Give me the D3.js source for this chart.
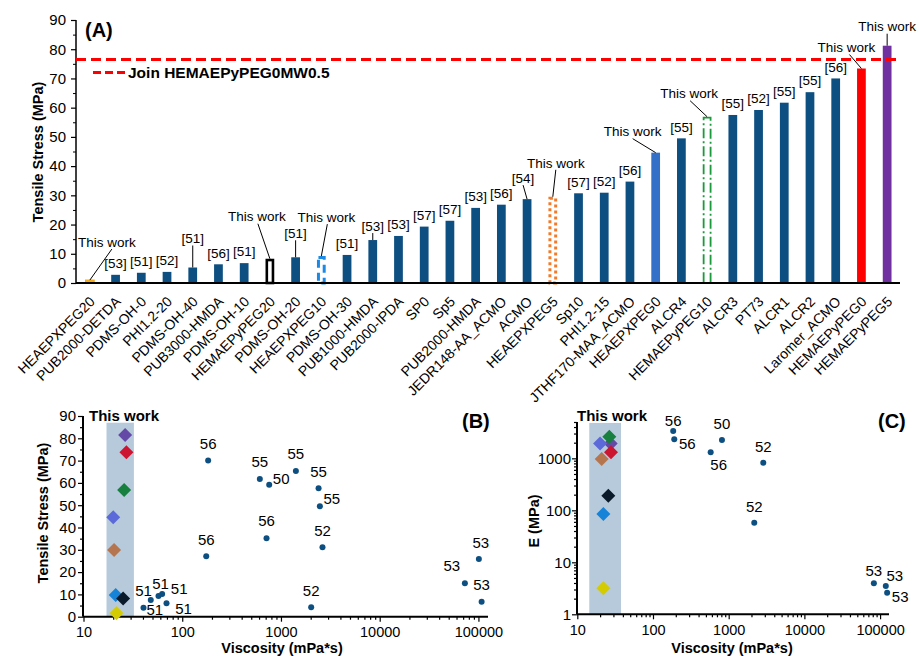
<!DOCTYPE html>
<html><head><meta charset="utf-8">
<script src="https://cdn.jsdelivr.net/npm/d3@7"></script>
<style>
body{margin:0;background:#fff}
text{font-family:"Liberation Sans",Arial,Helvetica,sans-serif;fill:#000}
</style>
</head><body>
<svg id="chart" width="919" height="656"></svg>
<script>
// ---------------- DATA ----------------
// Panel A
const categories = ["HEAEPXPEG20","PUB2000-DETDA","PDMS-OH-0","PHI1.2-20","PDMS-OH-40","PUB3000-HMDA","PDMS-OH-10","HEMAEPyPEG20","PDMS-OH-20","HEAEPXPEG10","PDMS-OH-30","PUB1000-HMDA","PUB2000-IPDA","SP0","Sp5","PUB2000-HMDA","JEDR148-AA_ACMO","ACMO","HEAEPXPEG5","Sp10","PHI1.2-15","JTHF170-MAA_ACMO","HEAEPXPEG0","ALCR4","HEMAEPyPEG10","ALCR3","PT73","ALCR1","ALCR2","Laromer_ACMO","HEMAEPyPEG0","HEMAEPyPEG5"];
const tensileA = [1.0,2.8,3.5,3.8,5.3,6.4,6.8,8.3,8.8,9.2,9.6,14.7,16.1,19.3,21.3,25.7,26.8,28.7,29.5,30.7,30.9,34.7,44.6,49.5,56.9,57.5,59.2,61.7,65.3,70.0,73.4,81.2];
const refsA = ["This work","[53]","[51]","[52]","[51]","[56]","[51]","This work","[51]","This work","[51]","[53]","[53]","[57]","[57]","[53]","[56]","[54]","This work","[57]","[52]","[56]","This work","[55]","This work","[55]","[52]","[55]","[55]","[56]","This work","This work"];
const joinValue = 76.5;
const joinLabel = "Join HEMAEPyPEG0MW0.5";
const yTicksA = [0,10,20,30,40,50,60,70,80,90];

// Panel B (literature)
const litViscB = [183,611,760,1416,2404,2477,714,2634,175,2023,40.5,48,57.5,62.6,69.3,72900,101000,107700];
const litTensileB = [70.1,61.7,59.2,65.3,57.6,49.5,35.2,31.1,27.1,4.2,4.0,7.5,9.3,10.2,6.0,15.0,25.9,6.7];
const litRefB = ["56","55","50","55","55","55","56","52","56","52","51","51","51","51","51","53","53","53"];
// Panel B (this work)
const thisNames = ["HEMAEPyPEG5","HEMAEPyPEG0","HEMAEPyPEG10","HEAEPXPEG0","HEAEPXPEG5","HEAEPXPEG10","HEMAEPyPEG20","HEAEPXPEG20"];
const thisViscB = [26.4,27.2,25.8,20.0,20.4,21.2,25.2,21.6];
const thisTensileB = [81.5,73.7,56.8,44.6,29.9,9.7,8.2,1.5];
const bandViscB = [17.1,32.4];
const bandTopB = 87;
const yTicksB = [0,10,20,30,40,50,60,70,80,90];

// Panel C (literature)
const litViscC = [185,191,815,578,2864,2178,82800,119000,124000];
const litModulusC = [3350,2318,2250,1303,823,57.8,3.95,3.5,2.6];
const litRefC = ["56","56","50","56","52","52","53","53","53"];
// Panel C (this work)
const thisViscC = [27.6,27.9,26.5,20.0,21.0,22.1,25.7,22.1];
const thisModulusC = [1940,1303,2600,1940,970,85,191,3.16];
const bandViscC = [14.4,37.8];
const bandTopC = 4800;
const xTicksLog = [10,100,1000,10000,100000];
const yTicksC = [1,10,100,1000];

// ---------------- STYLE / LAYOUT ----------------
const DARK = "#0d4f80";
const barStyle = {
  "HEAEPXPEG20": {fill:"#f4b400", stroke:"#f0a020", sw:1},
  "HEMAEPyPEG20": {fill:"#fff", stroke:"#000", sw:2.6},
  "HEAEPXPEG10": {fill:"#fff", stroke:"#1a8ae6", sw:3, dash:"8,5"},
  "HEAEPXPEG5": {fill:"#fff", stroke:"#f47a28", sw:3, dash:"3,3"},
  "HEAEPXPEG0": {fill:"#3470c8"},
  "HEMAEPyPEG10": {fill:"#fff", stroke:"#1a9a3a", sw:1.8, dash:"10,3,2,3"},
  "HEMAEPyPEG0": {fill:"#ff0000"},
  "HEMAEPyPEG5": {fill:"#7030a0"}
};
const diamondColor = ["#6549a6","#cc1530","#17803f","#5b6ad8","#b5764f","#1683d8","#0b1a2a","#d4cc00"];
// annotation placement for panel A (text centre offset from bar top, optional leader)
const annA = {0:{dx:17,dy:-38,lx:5},4:{dx:0,dy:-29,lx:0},7:{dx:-13,dy:-42,lx:1},8:{dx:0,dy:-24,lx:0},
  9:{dx:5,dy:-39,lx:1},11:{dx:0,dy:-14,lx:0},17:{dx:-4,dy:-21,lx:0},18:{dx:3,dy:-34,lx:0},
  22:{dx:-23,dy:-21,lx:0},24:{dx:-18,dy:-23,lx:1},30:{dx:-15,dy:-21,lx:3},31:{dx:0,dy:-19,lx:0}};
const labOffB = [[0,-17],[0,-17],[12,-6],[0,-17],[0,-17],[12,-8],[0,-17],[0,-17],[0,-17],[0,-17],
  [0,-17],[4,10],[2,-12],[17,-5],[17,5],[-13,-18],[2,-16],[0,-17]];
const labOffC = [[0,-10],[13,4],[0,-16],[8,12],[0,-16],[0,-16],[0,-13],[9,-10],[13,4]];

const svg = d3.select("#chart");

// ---------------- PANEL A ----------------
const xA = d3.scaleBand().domain(categories).range([77,900]).paddingInner(0.66).paddingOuter(0.33);
const yA = d3.scaleLinear().domain([0,90]).range([283,20]);
const gA = svg.append("g");

// y axis
const yAxA = gA.append("g").attr("transform","translate(76,0)")
  .call(d3.axisLeft(yA).tickValues(yTicksA).tickSize(5).tickPadding(5));
yAxA.select(".domain").remove();
yAxA.selectAll("line").attr("stroke","#000").attr("stroke-width",1.2);
yAxA.selectAll("text").attr("font-size",15);
gA.append("g").attr("transform","translate(76,0)")
  .call(d3.axisLeft(yA).tickValues(d3.range(5,90,10)).tickSize(3).tickFormat(""))
  .call(g=>{g.select(".domain").remove(); g.selectAll("line").attr("stroke","#000");});
gA.append("line").attr("x1",76).attr("x2",76).attr("y1",yA(90)).attr("y2",yA(0)).attr("stroke","#000").attr("stroke-width",1.5);

// bars
categories.forEach((c,i)=>{
  const st = barStyle[c] || {fill:DARK};
  const x = xA(c), w = xA.bandwidth(), top = yA(tensileA[i]), bot = yA(0);
  if (st.fill === "#fff") {
    const s = st.sw;
    gA.append("rect").attr("x",x+s/2).attr("y",top+s/2).attr("width",w-s).attr("height",bot-top-s/2)
      .attr("fill","#fff").attr("stroke",st.stroke).attr("stroke-width",s)
      .attr("stroke-dasharray",st.dash||null);
  } else {
    gA.append("rect").attr("x",x).attr("y",top).attr("width",w).attr("height",bot-top)
      .attr("fill",st.fill).attr("stroke",st.stroke||"none").attr("stroke-width",st.sw||0);
  }
});

// x axis + category labels
gA.append("line").attr("x1",76).attr("x2",900).attr("y1",yA(0)).attr("y2",yA(0)).attr("stroke","#000").attr("stroke-width",2);
const xAxA = gA.append("g").attr("transform",`translate(0,${yA(0)})`).call(d3.axisBottom(xA).tickSize(0));
xAxA.select(".domain").remove();
xAxA.selectAll("text").attr("x",0).attr("y",0).attr("dy",null).attr("font-size",14)
  .attr("text-anchor","end").attr("transform","translate(6,19.5) rotate(-45)");

// annotations
categories.forEach((c,i)=>{
  const cx = xA(c)+xA.bandwidth()/2, top = yA(tensileA[i]);
  const a = annA[i] || {dx:0,dy:-11.5};
  const tx = cx + a.dx, ty = top + a.dy;
  gA.append("text").attr("x",tx).attr("y",ty).attr("dy","0.35em").attr("text-anchor","middle")
    .attr("font-size",13.5).text(refsA[i]);
  if (a.lx !== undefined) {
    gA.append("line").attr("x1",tx+a.lx).attr("y1",ty+7).attr("x2",cx).attr("y2",top)
      .attr("stroke","#000").attr("stroke-width",1);
  }
});

// join line + legend
gA.append("line").attr("x1",76).attr("x2",900).attr("y1",yA(joinValue)).attr("y2",yA(joinValue))
  .attr("stroke","#ff0000").attr("stroke-width",3).attr("stroke-dasharray","10,5");
gA.append("line").attr("x1",93).attr("x2",125).attr("y1",72.5).attr("y2",72.5)
  .attr("stroke","#ff0000").attr("stroke-width",3).attr("stroke-dasharray","8,4");
gA.append("text").attr("x",128).attr("y",78).attr("font-size",15.5).attr("font-weight","bold").text(joinLabel);
gA.append("text").attr("x",85).attr("y",37).attr("font-size",20).attr("font-weight","bold").text("(A)");
gA.append("text").attr("transform","translate(43,152) rotate(-90)").attr("text-anchor","middle")
  .attr("font-size",14.5).attr("font-weight","bold").text("Tensile Stress (MPa)");

// ---------------- helpers ----------------
function minorLog(lo, hi){ const out=[]; for(let d=lo; d<hi; d*=10){ for(let k=2;k<=9;k++){ if(d*k<=hi) out.push(d*k);} } return out; }
function diamond(g, x, y, r, color){
  g.append("path").attr("d",`M${x},${y-r}L${x+r},${y}L${x},${y+r}L${x-r},${y}Z`).attr("fill",color);
}

// ---------------- PANEL B ----------------
const xB = d3.scaleLog().domain([10,125000]).range([83.5,488]);
const yB = d3.scaleLinear().domain([0,90]).range([616.7,416]);
const gB = svg.append("g");
gB.append("rect").attr("x",xB(bandViscB[0])).attr("width",xB(bandViscB[1])-xB(bandViscB[0]))
  .attr("y",yB(bandTopB)).attr("height",yB(0)-yB(bandTopB)).attr("fill","#b7cadb");
// axes
const yAxB = gB.append("g").attr("transform","translate(83,0)")
  .call(d3.axisLeft(yB).tickValues(yTicksB).tickSize(5).tickPadding(2));
yAxB.select(".domain").remove();
yAxB.selectAll("text").attr("font-size",15);
gB.append("g").attr("transform","translate(83,0)")
  .call(d3.axisLeft(yB).tickValues(d3.range(5,90,10)).tickSize(3).tickFormat(""))
  .call(g=>g.select(".domain").remove());
const xAxB = gB.append("g").attr("transform",`translate(0,${yB(0)})`)
  .call(d3.axisBottom(xB).tickValues(xTicksLog).tickSize(5).tickPadding(5).tickFormat(d3.format("d")));
xAxB.select(".domain").remove();
xAxB.selectAll("text").attr("font-size",14.5);
gB.append("g").attr("transform",`translate(0,${yB(0)})`)
  .call(d3.axisBottom(xB).tickValues(minorLog(10,125000).filter(v=>!xTicksLog.includes(v))).tickSize(3).tickFormat(""))
  .call(g=>g.select(".domain").remove());
gB.append("line").attr("x1",83).attr("x2",83).attr("y1",yB(90)).attr("y2",yB(0)).attr("stroke","#000").attr("stroke-width",2);
gB.append("line").attr("x1",83).attr("x2",488).attr("y1",yB(0)).attr("y2",yB(0)).attr("stroke","#000").attr("stroke-width",2);
gB.selectAll(".tick line").attr("stroke","#000").attr("stroke-width",1.2);
// points
litViscB.forEach((v,i)=>{
  const x = xB(v), y = yB(litTensileB[i]);
  gB.append("circle").attr("cx",x).attr("cy",y).attr("r",3).attr("fill",DARK);
  gB.append("text").attr("x",x+labOffB[i][0]).attr("y",y+labOffB[i][1]).attr("dy","0.35em")
    .attr("text-anchor","middle").attr("font-size",15).text(litRefB[i]);
});
thisViscB.forEach((v,i)=> diamond(gB, xB(v), yB(thisTensileB[i]), 7, diamondColor[i]));
gB.append("text").attr("x",89).attr("y",421).attr("font-size",15).attr("font-weight","bold").text("This work");
gB.append("text").attr("x",462).attr("y",428).attr("font-size",20).attr("font-weight","bold").text("(B)");
gB.append("text").attr("transform","translate(48,513) rotate(-90)").attr("text-anchor","middle")
  .attr("font-size",14.5).attr("font-weight","bold").text("Tensile Stress (MPa)");
gB.append("text").attr("x",282).attr("y",653).attr("text-anchor","middle")
  .attr("font-size",14.5).attr("font-weight","bold").text("Viscosity (mPa*s)");

// ---------------- PANEL C ----------------
const xC = d3.scaleLog().domain([10,130000]).range([577.3,888.7]);
const yC = d3.scaleLog().domain([1,5000]).range([614.3,422]);
const gC = svg.append("g");
gC.append("rect").attr("x",xC(bandViscC[0])).attr("width",xC(bandViscC[1])-xC(bandViscC[0]))
  .attr("y",yC(bandTopC)).attr("height",yC(1)-yC(bandTopC)).attr("fill","#b7cadb");
const yAxC = gC.append("g").attr("transform","translate(577,0)")
  .call(d3.axisLeft(yC).tickValues(yTicksC).tickSize(5).tickPadding(1).tickFormat(d3.format("d")));
yAxC.select(".domain").remove();
yAxC.selectAll("text").attr("font-size",15);
gC.append("g").attr("transform","translate(577,0)")
  .call(d3.axisLeft(yC).tickValues(minorLog(1,5000).filter(v=>!yTicksC.includes(v))).tickSize(3).tickFormat(""))
  .call(g=>g.select(".domain").remove());
const xAxC = gC.append("g").attr("transform",`translate(0,${yC(1)})`)
  .call(d3.axisBottom(xC).tickValues(xTicksLog).tickSize(5).tickPadding(5).tickFormat(d3.format("d")));
xAxC.select(".domain").remove();
xAxC.selectAll("text").attr("font-size",14.5);
gC.append("g").attr("transform",`translate(0,${yC(1)})`)
  .call(d3.axisBottom(xC).tickValues(minorLog(10,130000).filter(v=>!xTicksLog.includes(v))).tickSize(3).tickFormat(""))
  .call(g=>g.select(".domain").remove());
gC.append("line").attr("x1",577).attr("x2",577).attr("y1",yC(5000)).attr("y2",yC(1)).attr("stroke","#000").attr("stroke-width",2);
gC.append("line").attr("x1",577).attr("x2",889).attr("y1",yC(1)).attr("y2",yC(1)).attr("stroke","#000").attr("stroke-width",2);
gC.selectAll(".tick line").attr("stroke","#000").attr("stroke-width",1.2);
litViscC.forEach((v,i)=>{
  const x = xC(v), y = yC(litModulusC[i]);
  gC.append("circle").attr("cx",x).attr("cy",y).attr("r",3).attr("fill",DARK);
  const o = labOffC[i];
  gC.append("text").attr("x",x+o[0]).attr("y",y+o[1]).attr("dy","0.35em")
    .attr("text-anchor","middle").attr("font-size",15).text(litRefC[i]);
});
thisViscC.forEach((v,i)=> diamond(gC, xC(v), yC(thisModulusC[i]), 7, diamondColor[i]));
gC.append("text").attr("x",577).attr("y",421).attr("font-size",15).attr("font-weight","bold").text("This work");
gC.append("text").attr("x",878).attr("y",428).attr("font-size",20).attr("font-weight","bold").text("(C)");
gC.append("text").attr("transform","translate(539,521) rotate(-90)").attr("text-anchor","middle")
  .attr("font-size",14.5).attr("font-weight","bold").text("E (MPa)");
gC.append("text").attr("x",732).attr("y",653).attr("text-anchor","middle")
  .attr("font-size",14.5).attr("font-weight","bold").text("Viscosity (mPa*s)");
</script>
</body></html>
